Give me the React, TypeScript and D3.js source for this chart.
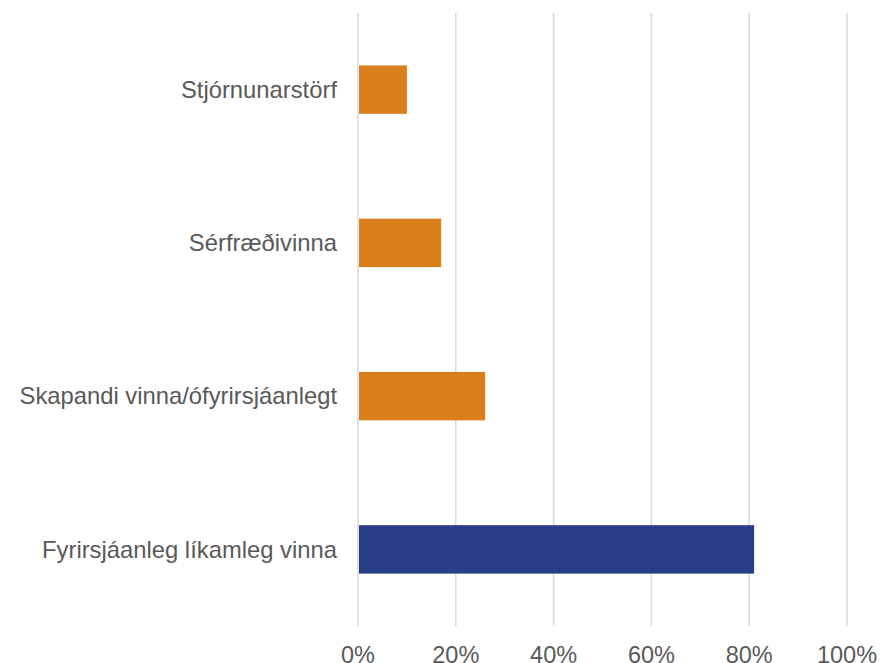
import React from 'react';
import * as d3 from 'd3';

const categories = [
  'Stjórnunarstörf',
  'Sérfræðivinna',
  'Skapandi vinna/ófyrirsjáanlegt',
  'Fyrirsjáanleg líkamleg vinna',
];
const values = [0.10, 0.17, 0.26, 0.81];
const highlight = [false, false, false, true];
const xTicks = [0, 0.2, 0.4, 0.6, 0.8, 1.0];

const W = 881, H = 663;
const margin = { top: 13, right: 34, bottom: 37, left: 358 };

const App = () => {
  const x = d3.scaleLinear().domain([0, 1]).range([margin.left, W - margin.right]);
  const y = d3.scaleBand().domain(categories).range([margin.top, H - margin.bottom]).paddingInner(0.684).paddingOuter(0.342);
  const fmt = d3.format('.0%');

  return (
    <svg width={W} height={H} style={{ position: 'absolute', left: 0, top: 0 }} fontFamily="Liberation Sans, Arial, sans-serif">
      {xTicks.map(t => (
        <line key={t} x1={x(t)} x2={x(t)} y1={margin.top} y2={H - margin.bottom} stroke="#d9d9d9" strokeWidth={1.5} />
      ))}
      {categories.map((c, i) => (
        <rect key={c} x={x(0) + 1} y={y(c)} width={x(values[i]) - x(0) - 1} height={y.bandwidth()}
          fill={highlight[i] ? '#293d88' : '#d9801d'} />
      ))}
      {categories.map(c => (
        <text key={c} x={x(0) - 21} y={(y(c) ?? 0) + y.bandwidth() / 2} dy="0.35em" textAnchor="end" fontSize={23.8} fill="#595959">{c}</text>
      ))}
      {xTicks.map(t => (
        <text key={t} x={x(t)} y={H} textAnchor="middle" fontSize={23.5} fill="#595959">{fmt(t)}</text>
      ))}
    </svg>
  );
};

export default App;
